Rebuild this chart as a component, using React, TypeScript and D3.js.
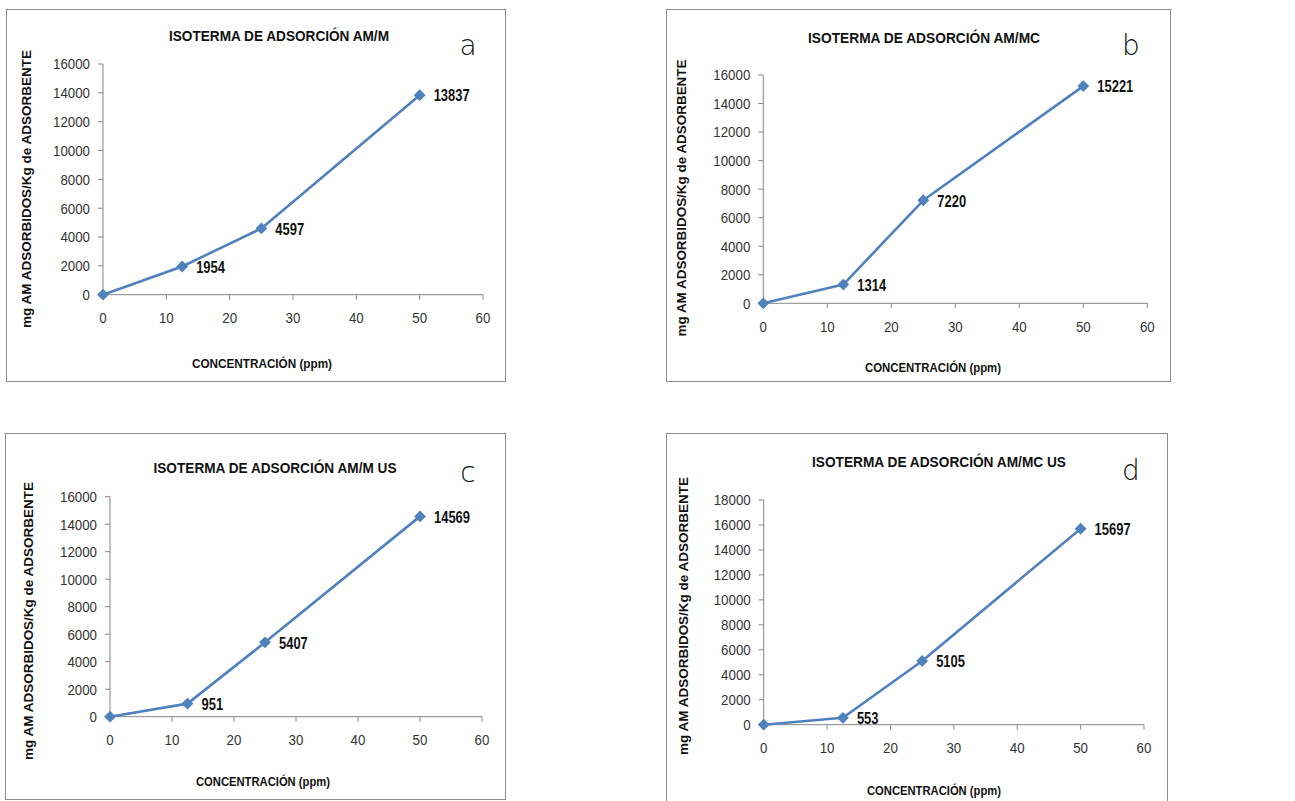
import React from "react";
import * as d3 from "d3";

// ---------- data ----------
const concentrations = [0, 12.5, 25, 50];
const seriesAM_M = [0, 1954, 4597, 13837];
const seriesAM_MC = [0, 1314, 7220, 15221];
const seriesAM_M_US = [0, 951, 5407, 14569];
const seriesAM_MC_US = [0, 553, 5105, 15697];

const titles = [
  "ISOTERMA DE ADSORCIÓN AM/M",
  "ISOTERMA DE ADSORCIÓN AM/MC",
  "ISOTERMA DE ADSORCIÓN  AM/M US",
  "ISOTERMA DE ADSORCIÓN  AM/MC US",
];
const panelLetters = ["a", "b", "c", "d"];
const xAxisLabels = [
  "CONCENTRACIÓN  (ppm)",
  "CONCENTRACIÓN (ppm)",
  "CONCENTRACIÓN (ppm)",
  "CONCENTRACIÓN (ppm)",
];
const yAxisLabel = "mg  AM ADSORBIDOS/Kg de ADSORBENTE";
const xTicks = [0, 10, 20, 30, 40, 50, 60];
const yTicks16 = [0, 2000, 4000, 6000, 8000, 10000, 12000, 14000, 16000];
const yTicks18 = [0, 2000, 4000, 6000, 8000, 10000, 12000, 14000, 16000, 18000];

// ---------- layout ----------
const layouts = [
  { box: [6, 9, 499, 372], plot: [103, 483, 64, 294.7], yMax: 16000, yTicks: yTicks16,
    title: [279, 41, 220], letter: [468, 55], xLab: [262, 368, 140], yLab: [27, 189, 278] },
  { box: [666, 9, 504, 372], plot: [763.3, 1147.3, 75, 303.3], yMax: 16000, yTicks: yTicks16,
    title: [924, 43, 232], letter: [1131, 55], xLab: [933, 372, 136], yLab: [682, 198, 277] },
  { box: [5, 433, 500, 366], plot: [110, 482, 496.7, 716.7], yMax: 16000, yTicks: yTicks16,
    title: [275, 473, 243], letter: [468, 482], xLab: [263, 786, 134], yLab: [29, 621, 278] },
  { box: [666, 433, 501, 370], plot: [763.7, 1144, 500, 724.7], yMax: 18000, yTicks: yTicks18,
    title: [939, 467, 254], letter: [1131, 480], xLab: [934, 795, 134], yLab: [684, 616, 278] },
];
const seriesList = [seriesAM_M, seriesAM_MC, seriesAM_M_US, seriesAM_MC_US];

const LINE = "#4F81BD";
const AXIS = "#868686";

function Panel({ i }: { i: number }) {
  const L = layouts[i];
  const values = seriesList[i];
  const [x0, x1, yTop, yBot] = L.plot;
  const x = d3.scaleLinear().domain([0, 60]).range([x0, x1]);
  const y = d3.scaleLinear().domain([0, L.yMax]).range([yBot, yTop]);
  const pts = concentrations.map((c, k) => [c, values[k]] as [number, number]);
  const line = d3.line<[number, number]>().x((d) => x(d[0])).y((d) => y(d[1]));
  const diamond = d3.symbol().type(d3.symbolSquare).size(70)();
  const [bx, by, bw, bh] = L.box;
  return (
    <g>
      <rect x={bx + 0.5} y={by + 0.5} width={bw} height={bh} fill="#fff" stroke="#8c8c8c" strokeWidth={1} />
      {/* title */}
      <text x={L.title[0] - L.title[2] / 2} y={L.title[1]} fontFamily="Liberation Sans, Arial, sans-serif"
        fontWeight="bold" fontSize={15.5} textLength={L.title[2]} lengthAdjust="spacingAndGlyphs" fill="#111">
        {titles[i]}
      </text>
      {/* letter */}
      <text x={L.letter[0]} y={L.letter[1]} textAnchor="middle" fontFamily="DejaVu Sans, sans-serif"
        fontSize={28} fill="#111" fontWeight="200">
        {panelLetters[i]}
      </text>
      {/* axes */}
      <line x1={x0} x2={x0} y1={yTop} y2={yBot} stroke={AXIS} />
      <line x1={x0} x2={x1} y1={yBot} y2={yBot} stroke={AXIS} />
      {L.yTicks.map((t) => (
        <g key={"y" + t}>
          <line x1={x0 - 5} x2={x0} y1={y(t)} y2={y(t)} stroke={AXIS} />
          <text x={x0 - 13} y={y(t)} dy="0.36em" textAnchor="end" fontFamily="Liberation Sans, Arial, sans-serif"
            fontSize={15} fill="#333" textLength={String(t).length * 7.4} lengthAdjust="spacingAndGlyphs">
            {t}
          </text>
        </g>
      ))}
      {xTicks.map((t) => (
        <g key={"x" + t}>
          <line x1={x(t)} x2={x(t)} y1={yBot} y2={yBot + 5} stroke={AXIS} />
          <text x={x(t)} y={yBot + 23} dy="0.36em" textAnchor="middle" fontFamily="Liberation Sans, Arial, sans-serif"
            fontSize={15} fill="#333" textLength={String(t).length * 7.4} lengthAdjust="spacingAndGlyphs">
            {t}
          </text>
        </g>
      ))}
      {/* axis titles */}
      <text x={L.xLab[0] - L.xLab[2] / 2} y={L.xLab[1]} fontFamily="Liberation Sans, Arial, sans-serif"
        fontWeight="bold" fontSize={13} textLength={L.xLab[2]} lengthAdjust="spacingAndGlyphs" fill="#111">
        {xAxisLabels[i]}
      </text>
      <text transform={`translate(${L.yLab[0]},${L.yLab[1]}) rotate(-90)`} x={-L.yLab[2] / 2} y={0} dy="0.36em"
        fontFamily="Liberation Sans, Arial, sans-serif" fontWeight="bold" fontSize={12}
        textLength={L.yLab[2]} lengthAdjust="spacingAndGlyphs" fill="#111">
        {yAxisLabel}
      </text>
      {/* series */}
      <path d={line(pts) || ""} fill="none" stroke={LINE} strokeWidth={2.6} strokeLinejoin="round" />
      {pts.map((p, k) => (
        <path key={"m" + k} d={diamond || ""} transform={`translate(${x(p[0])},${y(p[1])}) rotate(45)`} fill={LINE} />
      ))}
      {pts.slice(1).map((p, k) => (
        <text key={"l" + k} x={x(p[0]) + 14} y={y(p[1])} dy="0.38em" fontFamily="Liberation Sans, Arial, sans-serif"
          fontWeight="bold" fontSize={16.5} fill="#111" textLength={String(p[1]).length * 7.2}
          lengthAdjust="spacingAndGlyphs">
          {p[1]}
        </text>
      ))}
    </g>
  );
}

export default function App() {
  return (
    <svg width={1295} height={801} style={{ position: "absolute", left: 0, top: 0, background: "#fff" }}>
      <rect x={0} y={0} width={1295} height={801} fill="#fff" />
      {layouts.map((_, i) => (
        <Panel key={i} i={i} />
      ))}
    </svg>
  );
}
